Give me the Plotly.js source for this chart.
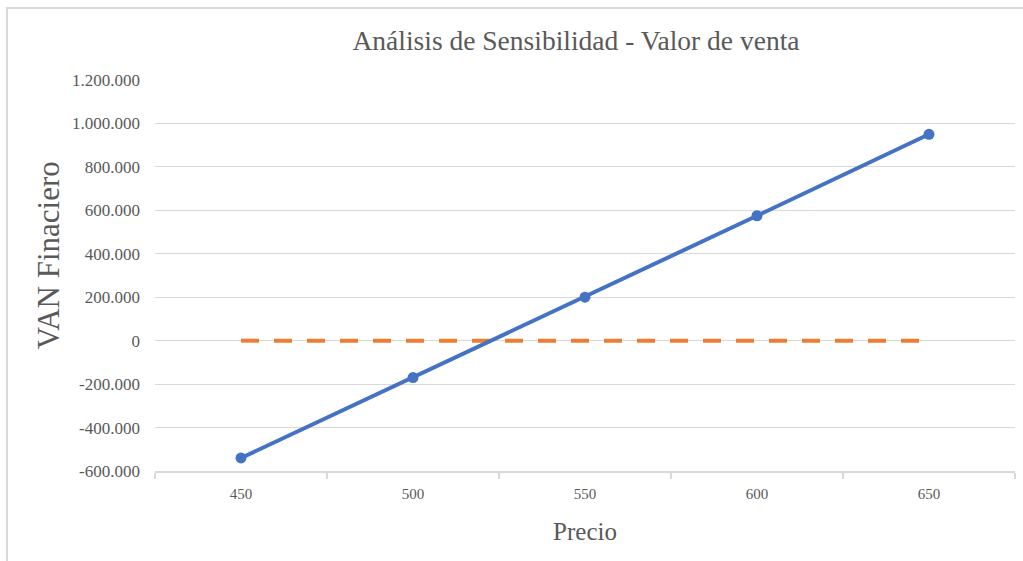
<!DOCTYPE html>
<html>
<head>
<meta charset="utf-8">
<script src="https://cdn.plot.ly/plotly-3.0.1.min.js"></script>
<style>
  html, body { margin: 0; padding: 0; background: #ffffff; }
  #wrap { position: relative; width: 1023px; height: 561px; }
  #chart { width: 1023px; height: 561px; }
  #frame { position: absolute; left: 6px; top: 7px; right: -4px; bottom: -4px;
           border-left: 2px solid #d9d9d9; border-top: 2px solid #d9d9d9; pointer-events: none; }
</style>
</head>
<body>
<div id="wrap"><div id="chart"></div><div id="frame"></div></div>
<script>
const precios = ['450', '500', '550', '600', '650'];
const vanFinanciero = [-540000, -170000, 200000, 575000, 950000];
const equilibrio = [0, 0, 0, 0, 0];
const yTickVals = [-600000, -400000, -200000, 0, 200000, 400000, 600000, 800000, 1000000, 1200000];
const yTickText = ['-600.000', '-400.000', '-200.000', '0', '200.000', '400.000', '600.000', '800.000', '1.000.000', '1.200.000'];

const serif = 'Liberation Serif';
const gray = '#595959';

const traces = [
  {
    x: precios, y: equilibrio, type: 'scatter', mode: 'lines',
    line: { color: '#ED7D31', width: 4, dash: '18px,15px' },
    hoverinfo: 'skip', showlegend: false
  },
  {
    x: precios, y: vanFinanciero, type: 'scatter', mode: 'lines+markers',
    line: { color: '#4472C4', width: 4 },
    marker: { color: '#4472C4', size: 11 },
    showlegend: false
  }
];

const layout = {
  width: 1023, height: 561,
  margin: { l: 155, r: 8, t: 80, b: 90 },
  paper_bgcolor: '#ffffff', plot_bgcolor: '#ffffff',
  title: {
    text: 'Análisis de Sensibilidad - Valor de venta',
    font: { family: serif, size: 27.5, color: gray },
    x: 0.4895, xref: 'paper', xanchor: 'center',
    y: 42, yref: 'container', yanchor: 'middle'
  },
  xaxis: {
    type: 'category',
    range: [-0.5, 4.5],
    tickson: 'boundaries',
    ticks: 'outside', ticklen: 6, tickcolor: '#d9d9d9', tickwidth: 1.5,
    ticklabelstandoff: 8,
    showgrid: false,
    showline: true, linecolor: '#d9d9d9', linewidth: 1.5,
    tickfont: { family: serif, size: 15, color: gray },
    title: { text: 'Precio', font: { family: serif, size: 25, color: gray }, standoff: 22 },
    fixedrange: true
  },
  yaxis: {
    range: [-600000, 1200000],
    tickvals: yTickVals, ticktext: yTickText,
    showgrid: true, gridcolor: '#d9d9d9', gridwidth: 1,
    zeroline: false, showline: false,
    ticks: '', ticklabelstandoff: 14,
    tickfont: { family: serif, size: 17, color: gray },
    fixedrange: true
  },
  annotations: [
    {
      text: 'VAN Finaciero', textangle: -90, showarrow: false,
      xref: 'paper', yref: 'paper', x: -0.1244, y: 0.552,
      xanchor: 'center', yanchor: 'middle',
      font: { family: serif, size: 31, color: gray }
    }
  ],
  showlegend: false
};

Plotly.newPlot('chart', traces, layout, { displayModeBar: false, staticPlot: true });
</script>
</body>
</html>
